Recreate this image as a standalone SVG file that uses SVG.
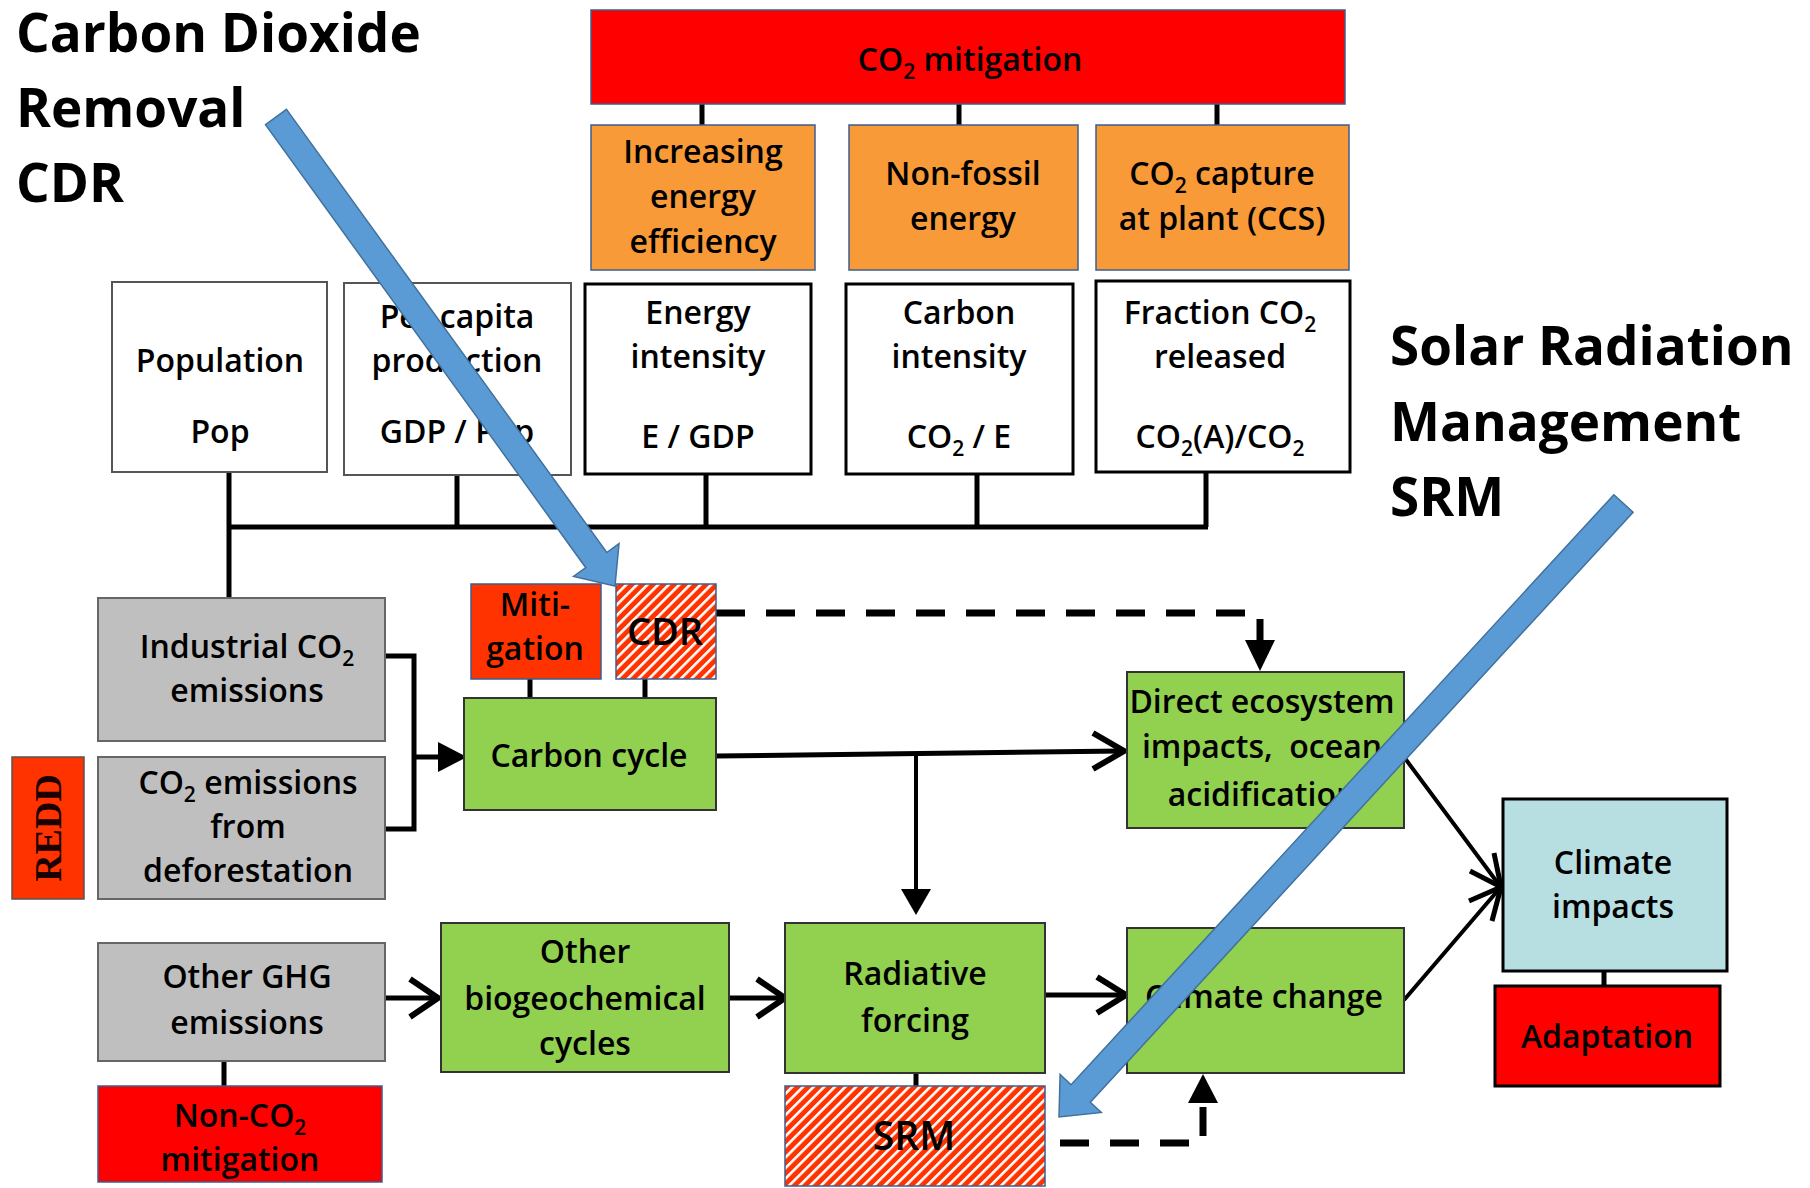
<svg xmlns="http://www.w3.org/2000/svg" width="1810" height="1188" viewBox="0 0 1810 1188">
<style>
.t{font-family:"Open Sans","Liberation Sans",sans-serif;font-size:32px;font-weight:600;fill:#000;text-anchor:middle}
.h{font-family:"Open Sans","Liberation Sans",sans-serif;font-size:53px;font-weight:700;fill:#000}
.red{fill:#FF0000;stroke:#3A5F8F;stroke-width:1.5}
.ored{fill:#FF3300;stroke:#3A5F8F;stroke-width:1.5}
.org{fill:#F89A38;stroke:#3A5F8F;stroke-width:1.5}
.wt{fill:#fff;stroke:#555;stroke-width:2}
.wk{fill:#fff;stroke:#000;stroke-width:3}
.gr{fill:#BFBFBF;stroke:#666;stroke-width:2}
.gn{fill:#92D050;stroke:#333;stroke-width:2}
.bl{fill:#B7DEE1;stroke:#000;stroke-width:3}
.ad{fill:#FF0000;stroke:#000;stroke-width:3}
.hat{fill:url(#hatch);stroke:#3A5F8F;stroke-width:1.5}
.c{stroke:#000;stroke-width:5;fill:none}
.cv{stroke:#000;stroke-width:6;fill:none;stroke-linejoin:miter}
.d{stroke:#000;stroke-width:7;fill:none;stroke-dasharray:29 21}
.ah{fill:#000}
.ba{fill:#5B9BD5;stroke:#41719C;stroke-width:1.5}
</style>
<defs>
<pattern id="hatch" width="7.5" height="7.5" patternUnits="userSpaceOnUse" patternTransform="rotate(45)">
<rect width="7.5" height="7.5" fill="#FF3300"/>
<rect width="2.6" height="7.5" fill="#fff"/>
</pattern>
</defs>

<g id="connectors">
<path class="c" d="M702,104V125M959,104V125M1217,104V125"/>
<path class="c" d="M229,473V598M457,475V527M706,474V527M977,474V527M1206,472V527M227,527H1208"/>
<path class="c" d="M386,656H414V829H386M414,757H442"/>
<polygon class="ah" points="438,742 467,757 438,772"/>
<path class="c" d="M530,679V698M645,679V698"/>
<path class="d" d="M716,613H1260V642"/>
<polygon class="ah" points="1245,640 1275,640 1260,671"/>
<path class="c" d="M716,756L1123,751"/>
<path class="cv" d="M1093,733L1124,751L1093,769"/>
<path class="c" style="stroke-width:4" d="M916,753V893"/>
<polygon class="ah" points="901,889 931,889 916,915"/>
<path class="c" style="stroke-width:4" d="M1404,757L1500,886M1404,1000L1500,888"/>
<path class="cv" style="stroke-width:5" d="M1494,853L1501,887L1470,871M1492,921L1501,887L1469,901"/>
<path class="c" d="M385,998H437M729,998H783M1045,995H1124"/>
<path class="cv" d="M410,979L438,998L410,1017M757,979L785,998L757,1017M1097,977L1126,995L1097,1013"/>
<path class="c" d="M916,1073V1086M1604,971V986M224,1061V1086"/>
<path class="d" d="M1060,1143H1203V1105"/>
<polygon class="ah" points="1188,1103 1218,1103 1203,1074"/>
</g>

<g id="co2-mitigation"><rect class="red" x="591" y="10" width="754" height="94"/>
<text class="t" x="970" y="71">CO<tspan font-size="21" dy="8">2</tspan><tspan dy="-8"> mitigation</tspan></text></g>

<g id="energy-efficiency"><rect class="org" x="591" y="125" width="224" height="145"/>
<text class="t" x="703" y="163">Increasing</text><text class="t" x="703" y="208">energy</text><text class="t" x="703" y="253">efficiency</text></g>
<g id="non-fossil"><rect class="org" x="849" y="125" width="229" height="145"/>
<text class="t" x="963" y="185">Non-fossil</text><text class="t" x="963" y="230">energy</text></g>
<g id="ccs"><rect class="org" x="1096" y="125" width="253" height="145"/>
<text class="t" x="1222" y="185">CO<tspan font-size="21" dy="8">2</tspan><tspan dy="-8"> capture</tspan></text><text class="t" x="1222" y="230">at plant (CCS)</text></g>

<g id="population"><rect class="wt" x="112" y="282" width="215" height="190"/>
<text class="t" x="220" y="372">Population</text><text class="t" x="220" y="443">Pop</text></g>
<g id="per-capita"><rect class="wt" x="344" y="283" width="227" height="192"/>
<text class="t" x="457" y="328">Per capita</text><text class="t" x="457" y="372">production</text><text class="t" x="457" y="443">GDP / Pop</text></g>
<g id="energy-intensity"><rect class="wk" x="585" y="284" width="226" height="190"/>
<text class="t" x="698" y="324">Energy</text><text class="t" x="698" y="368">intensity</text><text class="t" x="698" y="448">E / GDP</text></g>
<g id="carbon-intensity"><rect class="wk" x="846" y="284" width="227" height="190"/>
<text class="t" x="959" y="324">Carbon</text><text class="t" x="959" y="368">intensity</text><text class="t" x="959" y="448">CO<tspan font-size="21" dy="8">2</tspan><tspan dy="-8"> / E</tspan></text></g>
<g id="fraction"><rect class="wk" x="1096" y="281" width="254" height="191"/>
<text class="t" x="1220" y="324">Fraction CO<tspan font-size="21" dy="8">2</tspan></text><text class="t" x="1220" y="368">released</text><text class="t" x="1220" y="448">CO<tspan font-size="21" dy="8">2</tspan><tspan dy="-8">(A)/CO</tspan><tspan font-size="21" dy="8">2</tspan></text></g>

<g id="industrial"><rect class="gr" x="98" y="598" width="287" height="143"/>
<text class="t" x="247" y="658">Industrial CO<tspan font-size="21" dy="8">2</tspan></text><text class="t" x="247" y="702">emissions</text></g>
<g id="deforestation"><rect class="gr" x="98" y="757" width="287" height="142"/>
<text class="t" x="248" y="794">CO<tspan font-size="21" dy="8">2</tspan><tspan dy="-8"> emissions</tspan></text><text class="t" x="248" y="838">from</text><text class="t" x="248" y="882">deforestation</text></g>
<g id="redd"><rect x="12" y="757" width="72" height="142" fill="#FF3300" stroke="#555" stroke-width="1.5"/>
<text x="0" y="0" transform="translate(61,828) rotate(-90)" font-family="'Liberation Serif','DejaVu Serif',serif" font-weight="700" font-size="38" text-anchor="middle" fill="#1a0000">REDD</text></g>

<g id="mitigation"><rect class="ored" x="471" y="584" width="130" height="95"/>
<text class="t" x="535" y="616">Miti-</text><text class="t" x="535" y="660">gation</text></g>
<g id="cdr"><rect class="hat" x="616" y="584" width="100" height="95"/>
<text class="t" x="665" y="645" style="font-size:38px">CDR</text></g>
<g id="carbon-cycle"><rect class="gn" x="464" y="698" width="252" height="112"/>
<text class="t" x="589" y="767">Carbon cycle</text></g>

<g id="direct-ecosystem"><rect class="gn" x="1127" y="672" width="277" height="156"/>
<text class="t" x="1262" y="713">Direct ecosystem</text><text class="t" x="1262" y="758" xml:space="preserve">impacts,  ocean</text><text class="t" x="1262" y="806">acidification</text></g>

<g id="climate-impacts"><rect class="bl" x="1503" y="799" width="224" height="172"/>
<text class="t" x="1613" y="874">Climate</text><text class="t" x="1613" y="918">impacts</text></g>
<g id="adaptation"><rect class="ad" x="1495" y="986" width="225" height="100"/>
<text class="t" x="1607" y="1048">Adaptation</text></g>

<g id="other-ghg"><rect class="gr" x="98" y="943" width="287" height="118"/>
<text class="t" x="247" y="988">Other GHG</text><text class="t" x="247" y="1034">emissions</text></g>
<g id="non-co2"><rect class="red" x="98" y="1086" width="284" height="96"/>
<text class="t" x="240" y="1127">Non-CO<tspan font-size="21" dy="8">2</tspan></text><text class="t" x="240" y="1171">mitigation</text></g>
<g id="other-bio"><rect class="gn" x="441" y="923" width="288" height="149"/>
<text class="t" x="585" y="963">Other</text><text class="t" x="585" y="1010">biogeochemical</text><text class="t" x="585" y="1055">cycles</text></g>
<g id="radiative-forcing"><rect class="gn" x="785" y="923" width="260" height="150"/>
<text class="t" x="915" y="985">Radiative</text><text class="t" x="915" y="1032">forcing</text></g>
<g id="climate-change"><rect class="gn" x="1127" y="928" width="277" height="145"/>
<text class="t" x="1264" y="1008">Climate change</text></g>
<g id="srm"><rect class="hat" x="785" y="1086" width="260" height="100"/>
<text class="t" x="914" y="1150" style="font-size:39px">SRM</text></g>

<g id="cdr-label">
<text class="h" x="16" y="52">Carbon Dioxide</text>
<text class="h" x="16" y="127">Removal</text>
<text class="h" x="16" y="202">CDR</text>
<polygon class="ba" points="286.5,109.4 606.8,552.5 619,543.7 615,586 573.6,576.5 585.8,567.7 265.5,124.6"/>
</g>
<g id="srm-label">
<text class="h" x="1390" y="365">Solar Radiation</text>
<text class="h" x="1390" y="441">Management</text>
<text class="h" x="1390" y="516">SRM</text>
<polygon class="ba" points="1613.9,494.7 1071.1,1084.7 1060.1,1074.5 1059,1117 1101.3,1112.5 1090.3,1102.3 1633.1,512.3"/>
</g>
</svg>
